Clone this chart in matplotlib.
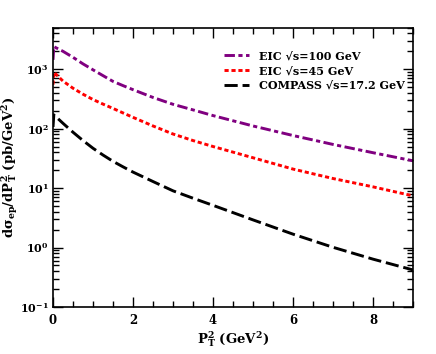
import matplotlib
matplotlib.use("Agg")
import matplotlib.pyplot as plt
from matplotlib.ticker import MultipleLocator, LogLocator, LogFormatterMathtext, NullFormatter

plt.rcParams['font.family'] = ['DejaVu Serif']
plt.rcParams['font.weight'] = 'bold'
plt.rcParams['mathtext.fontset'] = 'dejavuserif'
plt.rcParams['mathtext.default'] = 'bf'
plt.rcParams['lines.scale_dashes'] = False

# P_T^2 grid (GeV^2)
pt2 = [0.0, 0.02, 0.25, 0.5, 0.75, 1.0, 1.25, 1.5, 1.75, 2.0, 2.5, 3.0, 3.5, 4.0, 5.0, 6.0, 7.0, 8.0, 9.0]
eic100 = [1440, 2400, 2000, 1585, 1230, 977, 780, 624, 530, 453, 335, 257, 207, 166, 111, 76.7, 54.3, 39.4, 28.8]
eic45 = [550, 891, 631, 479, 380, 309, 259, 219, 184, 155, 111, 81.3, 63.1, 50.1, 32.4, 20.9, 14.5, 10.5, 7.4]
compass = [107, 171, 123, 87.1, 63.1, 46.8, 36.0, 28.2, 22.8, 18.6, 12.9, 9.0, 6.76, 5.13, 2.92, 1.68, 1.01, 0.638, 0.42]
labels = ["EIC \u221as=100 GeV", "EIC \u221as=45 GeV", "COMPASS \u221as=17.2 GeV"]

fig = plt.figure(figsize=(4.36, 3.54), dpi=100)
ax = fig.add_axes([0.1216, 0.1328, 0.8257, 0.789])

lw = 2.1
ax.plot(pt2, eic100, color='#800080', lw=lw, dashes=(7.5, 2.5, 3, 2.5), label=labels[0])
ax.plot(pt2, eic45, color='#ff0000', lw=lw, dashes=(3, 2), label=labels[1])
ax.plot(pt2, compass, color='black', lw=lw, dashes=(9.5, 3.5), label=labels[2])

ax.set_yscale('log')
ax.set_xlim(0, 9)
ax.set_ylim(0.1, 5000)

ax.xaxis.set_major_locator(MultipleLocator(2))
ax.xaxis.set_minor_locator(MultipleLocator(0.5))
ax.yaxis.set_major_locator(LogLocator(base=10, numticks=10))
ax.yaxis.set_minor_locator(LogLocator(base=10, subs=range(2, 10), numticks=20))
ax.yaxis.set_major_formatter(LogFormatterMathtext())
ax.yaxis.set_minor_formatter(NullFormatter())

ax.tick_params(which='both', direction='in', top=True, right=True, labelsize=8.5, width=1.0)
ax.tick_params(which='major', length=7)
ax.tick_params(axis='y', which='major', pad=3, labelsize=8)
ax.tick_params(axis='x', which='major', pad=5)
ax.tick_params(which='minor', length=4)
for lab in ax.get_xticklabels() + ax.get_yticklabels():
    lab.set_fontweight('bold')
for s in ax.spines.values():
    s.set_linewidth(1.2)

ax.set_xlabel(r'$P^2_T$ (GeV$^2$)', fontsize=9.5, fontweight='bold', labelpad=2)
ax.set_ylabel(r'd$\sigma_{ep}$/d$P^2_T$ (pb/GeV$^2$)', fontsize=9.5, fontweight='bold')
ax.yaxis.set_label_coords(-0.092, 0.5)

leg = ax.legend(loc='upper right', bbox_to_anchor=(1.005, 0.955), frameon=False,
                handlelength=2.3, handletextpad=0.9, labelspacing=0.35,
                prop={'weight': 'bold', 'size': 8})

fig.savefig('out.png', dpi=100)
